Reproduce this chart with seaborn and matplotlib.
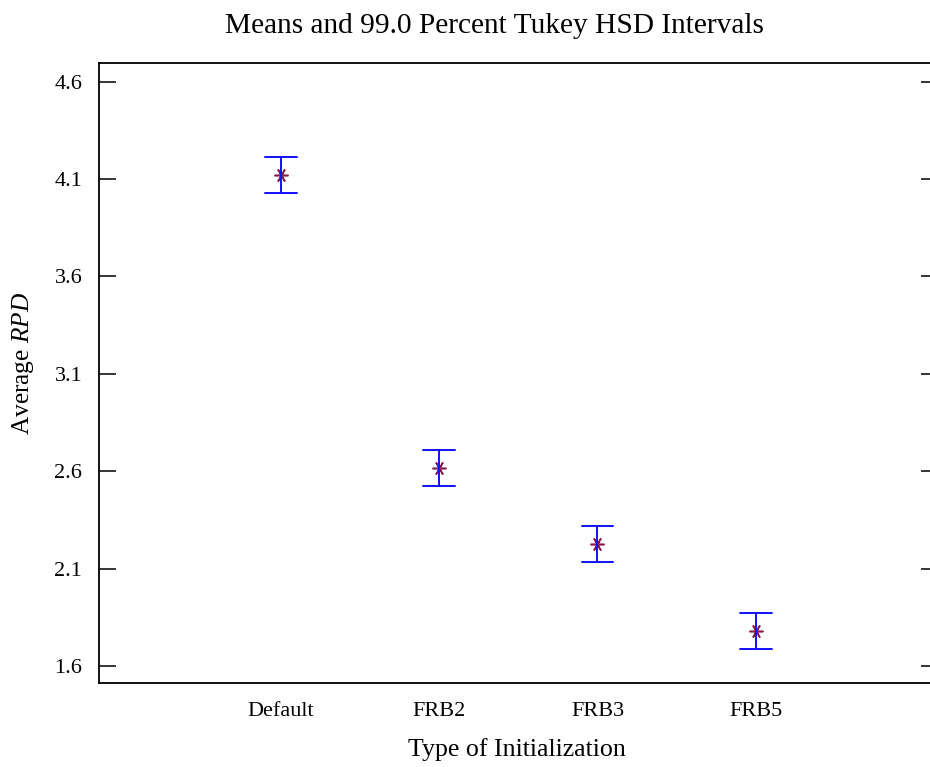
import matplotlib
matplotlib.use("Agg")
import matplotlib.pyplot as plt
import seaborn as sns
import pandas as pd

# ---- data ----
categories = ["Default", "FRB2", "FRB3", "FRB5"]
means = [4.121, 2.615, 2.225, 1.781]
lower = [4.028, 2.524, 2.132, 1.689]
upper = [4.212, 2.708, 2.318, 1.872]
ytick_values = [1.6, 2.1, 2.6, 3.1, 3.6, 4.1, 4.6]

title = "Means and 99.0 Percent Tukey HSD Intervals"
xlabel = "Type of Initialization"
ylabel = "Average $RPD$"

# long-form table: each group has lower / mean / upper; median = mean, min-max = interval
rows = []
for c, lo, m, hi in zip(categories, lower, means, upper):
    for v in (lo, m, hi):
        rows.append({"group": c, "value": v})
df = pd.DataFrame(rows)

sns.set_theme(style="white")
plt.rcParams["font.family"] = ["Liberation Serif", "DejaVu Serif"]
plt.rcParams["mathtext.fontset"] = "custom"
plt.rcParams["mathtext.rm"] = "Liberation Serif"
plt.rcParams["mathtext.it"] = "Liberation Serif:italic"

fig = plt.figure(figsize=(9.3, 7.67), dpi=100)
ax = fig.add_axes([99 / 930, 84.3 / 767, (937.7 - 99) / 930, (682.7 - 63) / 767])

sns.pointplot(
    data=df, x="group", y="value", order=categories,
    estimator="median", errorbar=("pi", 100),
    linestyle="none", marker=(6, 2, 90), markersize=10,
    color="#8b1a4e", capsize=0.2,
    err_kws={"color": "#1010ff", "linewidth": 1.4},
    markeredgewidth=1.15,
    ax=ax,
)

ax.set_xlim(-1.15, 4.15)
ax.set_ylim(1.514, 4.696)
ax.set_yticks(ytick_values)
ax.set_yticklabels([f"{v:.1f}" for v in ytick_values])

for s in ["left", "top", "bottom"]:
    ax.spines[s].set_visible(True)
    ax.spines[s].set_color("black")
    ax.spines[s].set_linewidth(1.3)
ax.spines["right"].set_visible(False)

ax.tick_params(axis="y", which="both", direction="in", length=12.5, width=1.1,
               color="black", left=True, right=True, labelsize=16, pad=12)
ax.tick_params(axis="x", bottom=False, labelsize=16, pad=8)
for lab in ax.get_xticklabels() + ax.get_yticklabels():
    lab.set_color("black")

ax.set_xlabel("")
ax.set_ylabel("")
fig.text(23 / 930, 1 - 363 / 767, ylabel, rotation=90, ha="center", va="center",
         fontsize=18.3, color="black")
fig.text(517 / 930, 1 - 750 / 767, xlabel, ha="center", va="center", fontsize=18.6, color="black")
fig.text(494 / 930, 1 - 33 / 767, title, ha="center", va="baseline", fontsize=21.2, color="black")

fig.savefig("out.png", dpi=100)
